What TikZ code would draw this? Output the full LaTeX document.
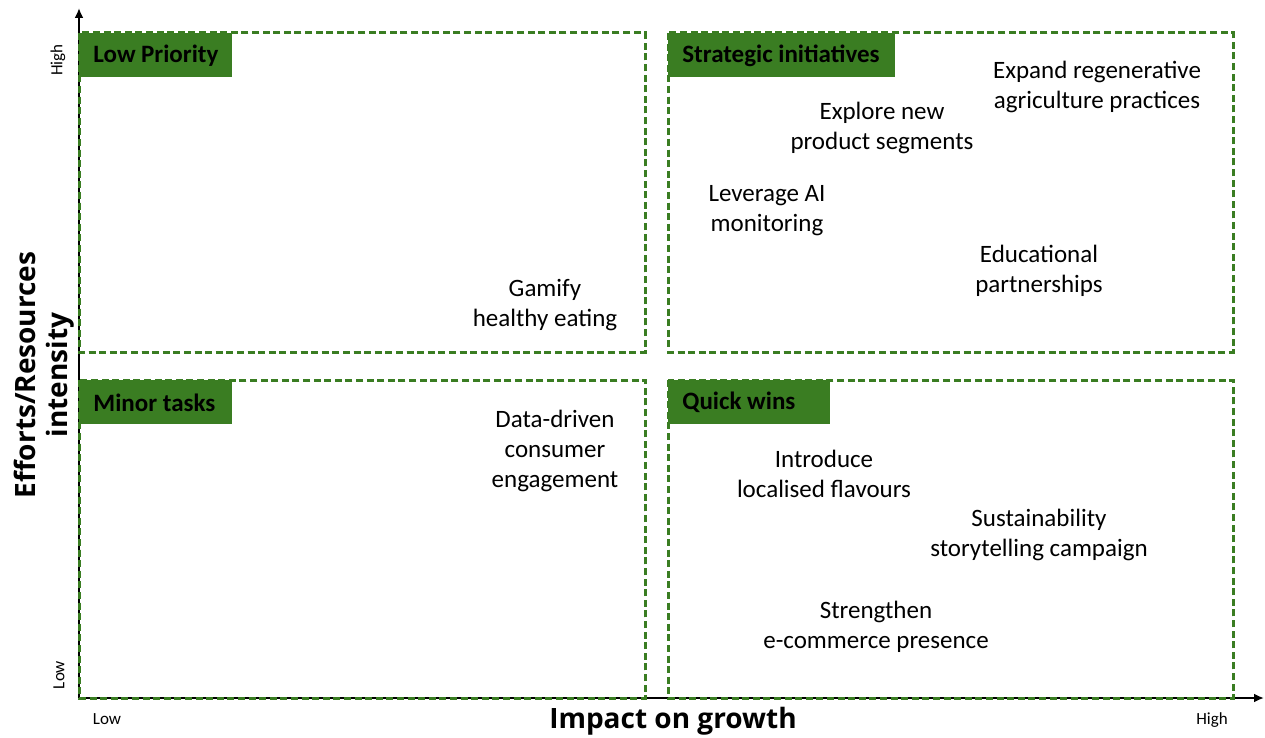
\documentclass[tikz,border=0pt]{standalone}
\usepackage{fontspec}
\setmainfont{Carlito}
\newfontfamily\titlefont{Open Sans}
\usetikzlibrary{arrows.meta}
\definecolor{c1}{RGB}{58,125,34}
\tikzstyle{matrix chart}=[
    x=0.5pt, y=-0.5pt,
    quadrant/.style={draw=c1, line width=1.5pt, dash pattern=on 3.5pt off 1.8pt},
    tag/.style={fill=c1, anchor=north west, inner xsep=7pt, inner ysep=0pt, align=flush left,
        minimum height=22pt, text=black, font={\bfseries\fontsize{12.5}{15}\selectfont}},
    idea/.style={align=center, font={\fontsize{12.5}{15}\selectfont}},
    axis/.style={black, line width=1pt, -{Latex[length=5pt,width=4.5pt]}},
    tick label/.style={font={\fontsize{8.5}{10}\selectfont}},
    axis title/.style={align=center, font={\titlefont\bfseries\fontsize{14}{16}\selectfont}}
]
% dashed box with its green title tab
\newcommand{\quadrant}[5]{
    \draw[quadrant] (#2) rectangle (#3);
    \node[tag, text width=#5] (#1) at (#2) {#4};
    \draw[quadrant] (#2) rectangle (#3);
}

\begin{document}
\begin{tikzpicture}[matrix chart]
    \useasboundingbox (0,0) rectangle (1265,738);

    % axes
    \draw[axis] (79,698) -- (79,8);
    \draw[axis] (79,698) -- (1264,698);

    \quadrant{lowprio}{79,33}{645,352}{Low Priority}{62.5pt}
    \quadrant{strategic}{668,33}{1233,352}{Strategic initiatives}{99.5pt}
    \quadrant{minor}{79,380}{645,698}{Minor tasks}{62.5pt}
    \quadrant{quickwins}{668,380}{1233,698}{Quick wins}{67pt}

    % ideas placed by impact / effort
    \foreach \x/\y/\t [count=\i] in {
        545/305/{Gamify\\healthy eating},
        555/451/{Data-driven\\consumer\\engagement},
        1097/87/{Expand regenerative\\agriculture practices},
        882/128/{Explore new\\product segments},
        767/211/{Leverage AI\\monitoring},
        1039/271/{Educational\\partnerships},
        824/474/{Introduce\\localised flavours},
        1039/535/{Sustainability\\storytelling campaign},
        876/627/{Strengthen\\e-commerce presence}}
    {
        \node[idea] (idea\i) at (\x,\y) {\t};
    }

    \node[tick label, rotate=90] (yhigh) at (58,60) {High};
    \node[tick label, rotate=90] (ylow) at (59,675) {Low};
    \node[tick label] (xlow) at (107,719) {Low};
    \node[tick label] (xhigh) at (1212,720) {High};

    \node[axis title, rotate=90] (ytitle) at (44,375) {Efforts/Resources\\intensity};
    \node[axis title] (xtitle) at (673,721) {Impact on growth};
\end{tikzpicture}
\end{document}
